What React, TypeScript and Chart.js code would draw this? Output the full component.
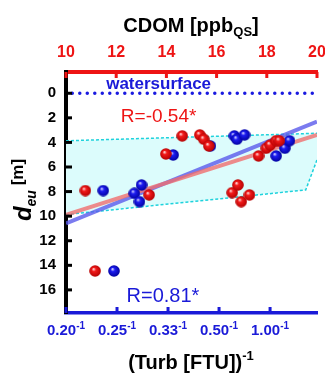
import React, { useEffect, useRef } from 'react';
import { Chart, registerables } from 'chart.js';

Chart.register(...registerables);

// ---- axis ticks ----
const TURB_TICKS = [0, 1, 2, 3, 4];
const TURB_TICK_LABELS = ['0.20', '0.25', '0.33', '0.50', '1.00'];
const TURB_TICK_EXP = '-1';
const CDOM_TICKS = [10, 12, 14, 16, 18, 20];
const DEPTH_TICKS = [0, 2, 4, 6, 8, 10, 12, 14, 16];

// ---- blue series: depth vs (Turb)^-1 (tick-index units) ----
const BLUE_X = [0.73, 0.94, 1.34, 1.48, 1.44, 2.1, 2.83, 3.3, 3.35, 3.5, 4.12, 4.29, 4.38];
const BLUE_Y = [7.92, 14.46, 8.14, 7.46, 8.82, 5.02, 4.29, 3.47, 3.74, 3.39, 5.1, 4.47, 3.86];

// ---- red series: depth vs CDOM ----
const RED_X = [10.77, 11.16, 13.31, 13.98, 14.63, 15.33, 15.49, 15.69, 16.62, 16.85, 16.98, 17.31, 17.67, 17.98, 18.13, 18.37, 18.5];
const RED_Y = [7.92, 14.46, 8.27, 4.94, 3.47, 3.39, 3.74, 4.29, 8.09, 7.46, 8.82, 8.27, 5.1, 4.47, 4.21, 3.86, 3.86];

// ---- regression lines ----
const BLUE_FIT_X = [0, 4.92];
const BLUE_FIT_Y = [10.58, 2.31];
const RED_FIT_X = [10, 20];
const RED_FIT_Y = [9.9, 3.39];

// ---- shaded band (CDOM units) ----
const BAND_X = [9.8, 20.4, 19.55, 9.8];
const BAND_Y = [3.88, 3.23, 7.87, 9.91];

// ---- water surface ----
const WATER_X = [10.25, 20];
const WATER_Y = [0, 0];

const RED = '#ee1414';
const BLUE = '#1a1ad8';
const FONT = "'Liberation Sans', Arial, sans-serif";

function makeBall(light: string, mid: string, dark: string) {
  const c = document.createElement('canvas');
  c.width = 12;
  c.height = 12;
  const g = c.getContext('2d')!;
  const grad = g.createRadialGradient(4.4, 4.0, 0.3, 6, 6, 6.2);
  grad.addColorStop(0, light);
  grad.addColorStop(0.3, mid);
  grad.addColorStop(1, dark);
  g.fillStyle = grad;
  g.beginPath();
  g.arc(6, 6, 5.8, 0, Math.PI * 2);
  g.fill();
  return c;
}

const decor = {
  id: 'decor',
  beforeDatasetsDraw(chart: any) {
    const { ctx, chartArea: a, scales } = chart;
    const sx = scales.x2;
    const sy = scales.y;
    ctx.save();
    ctx.beginPath();
    ctx.rect(a.left, a.top, a.right - a.left, a.bottom - a.top);
    ctx.clip();
    ctx.beginPath();
    BAND_X.forEach((v, i) => {
      const px = sx.getPixelForValue(v);
      const py = sy.getPixelForValue(BAND_Y[i]);
      if (i === 0) ctx.moveTo(px, py);
      else ctx.lineTo(px, py);
    });
    ctx.closePath();
    ctx.fillStyle = '#dcfcfc';
    ctx.fill();
    ctx.setLineDash([3, 2]);
    ctx.lineWidth = 1.5;
    ctx.strokeStyle = '#1ed2dc';
    ctx.stroke();
    ctx.restore();
  },
  afterDraw(chart: any) {
    const { ctx, chartArea: a, scales } = chart;
    ctx.save();
    // inward tick marks
    ctx.lineWidth = 3;
    ctx.strokeStyle = '#000';
    DEPTH_TICKS.forEach((v) => {
      const py = scales.y.getPixelForValue(v);
      ctx.beginPath();
      ctx.moveTo(a.left, py);
      ctx.lineTo(a.left + 6, py);
      ctx.stroke();
    });
    ctx.strokeStyle = RED;
    CDOM_TICKS.forEach((v) => {
      const px = scales.x2.getPixelForValue(v);
      ctx.beginPath();
      ctx.moveTo(px, a.top);
      ctx.lineTo(px, a.top + 6);
      ctx.stroke();
    });
    ctx.strokeStyle = BLUE;
    TURB_TICKS.forEach((v) => {
      const px = scales.x.getPixelForValue(v);
      ctx.beginPath();
      ctx.moveTo(px, a.bottom);
      ctx.lineTo(px, a.bottom - 6);
      ctx.stroke();
    });

    ctx.textBaseline = 'alphabetic';
    ctx.textAlign = 'left';
    const drawPieces = (pieces: [string, string, number][], cx: number, baseY: number) => {
      let w = 0;
      pieces.forEach(([t, f]) => {
        ctx.font = f;
        w += ctx.measureText(t).width;
      });
      let x = cx - w / 2;
      pieces.forEach(([t, f, dy]) => {
        ctx.font = f;
        ctx.fillText(t, x, baseY + dy);
        x += ctx.measureText(t).width;
      });
    };

    // bottom tick labels with superscript
    ctx.fillStyle = BLUE;
    TURB_TICKS.forEach((v, i) => {
      const px = scales.x.getPixelForValue(v);
      drawPieces(
        [
          [TURB_TICK_LABELS[i], `bold 15px ${FONT}`, 0],
          [TURB_TICK_EXP, `bold 10px ${FONT}`, -6],
        ],
        px,
        a.bottom + 22
      );
    });

    // annotations
    ctx.textAlign = 'center';
    ctx.fillStyle = BLUE;
    ctx.font = `bold 17px ${FONT}`;
    ctx.fillText('watersurface', scales.x2.getPixelForValue(13.69), scales.y.getPixelForValue(-0.35));
    ctx.fillStyle = RED;
    ctx.font = `19px ${FONT}`;
    ctx.fillText('R=-0.54*', scales.x2.getPixelForValue(13.69), scales.y.getPixelForValue(2.31));
    ctx.fillStyle = BLUE;
    ctx.font = `20px ${FONT}`;
    ctx.fillText('R=0.81*', scales.x.getPixelForValue(1.9), scales.y.getPixelForValue(16.98));

    // titles
    ctx.textAlign = 'left';
    ctx.fillStyle = '#000';
    drawPieces(
      [
        ['CDOM [ppb', `bold 20px ${FONT}`, 0],
        ['QS', `bold 13px ${FONT}`, 4],
        [']', `bold 20px ${FONT}`, 0],
      ],
      191,
      32
    );
    drawPieces(
      [
        ['(Turb [FTU])', `bold 20px ${FONT}`, 0],
        ['-1', `bold 13px ${FONT}`, -9],
      ],
      191,
      369
    );

    // y title (rotated)
    ctx.translate(31, 190);
    ctx.rotate(-Math.PI / 2);
    drawPieces(
      [
        ['d', `italic bold 24px ${FONT}`, 0],
        ['eu', `italic bold 14px ${FONT}`, 5],
        [' [m]', `bold 17px ${FONT}`, -8],
      ],
      0,
      0
    );
    ctx.restore();
  },
};

export default function App() {
  const ref = useRef<HTMLCanvasElement>(null);
  useEffect(() => {
    document.body.style.margin = '0';
    const canvas = ref.current!;
    const redBall = makeBall('#ffd6d6', '#f21a1a', '#b00000');
    const blueBall = makeBall('#d0d0ff', '#1c1cf0', '#00009a');

    const chart = new Chart(canvas, {
      type: 'scatter',
      data: {
        datasets: [
          {
            label: 'red',
            xAxisID: 'x2',
            yAxisID: 'y',
            data: RED_X.map((x, i) => ({ x, y: RED_Y[i] })),
            pointStyle: redBall as any,
            pointRadius: 6,
            order: 1,
          },
          {
            label: 'blue',
            xAxisID: 'x',
            yAxisID: 'y',
            data: BLUE_X.map((x, i) => ({ x, y: BLUE_Y[i] })),
            pointStyle: blueBall as any,
            pointRadius: 6,
            order: 2,
          },
          {
            label: 'red fit',
            xAxisID: 'x2',
            yAxisID: 'y',
            data: RED_FIT_X.map((x, i) => ({ x, y: RED_FIT_Y[i] })),
            showLine: true,
            pointRadius: 0,
            borderWidth: 4,
            borderColor: 'rgba(240,110,110,0.8)',
            order: 4,
          },
          {
            label: 'blue fit',
            xAxisID: 'x',
            yAxisID: 'y',
            data: BLUE_FIT_X.map((x, i) => ({ x, y: BLUE_FIT_Y[i] })),
            showLine: true,
            pointRadius: 0,
            borderWidth: 4,
            borderColor: 'rgba(90,90,235,0.8)',
            order: 5,
          },
          {
            label: 'water',
            xAxisID: 'x2',
            yAxisID: 'y',
            data: WATER_X.map((x, i) => ({ x, y: WATER_Y[i] })),
            showLine: true,
            pointRadius: 0,
            borderWidth: 3.5,
            borderDash: [0, 7.5],
            borderCapStyle: 'round',
            borderColor: '#1a1ae0',
            order: 6,
          },
        ] as any,
      },
      options: {
        responsive: false,
        animation: false,
        events: [],
        layout: { padding: { left: 0, right: 8, top: 0, bottom: 0 } },
        plugins: { legend: { display: false }, tooltip: { enabled: false } },
        scales: {
          x: {
            type: 'linear',
            position: 'bottom',
            min: 0,
            max: 4.92,
            grid: { display: true, drawOnChartArea: false, drawTicks: false },
            border: { display: true, color: BLUE, width: 3.5 },
            afterBuildTicks: (s: any) => {
              s.ticks = TURB_TICKS.map((v) => ({ value: v }));
            },
            afterFit: (s: any) => {
              s.height = 62;
              s.paddingLeft = 0;
              s.paddingRight = 0;
            },
            ticks: { display: false },
          },
          x2: {
            type: 'linear',
            position: 'top',
            min: 10,
            max: 20,
            grid: { display: true, drawOnChartArea: false, drawTicks: false },
            border: { display: true, color: RED, width: 4 },
            afterBuildTicks: (s: any) => {
              s.ticks = CDOM_TICKS.map((v) => ({ value: v }));
            },
            afterFit: (s: any) => {
              s.height = 72;
              s.paddingLeft = 0;
              s.paddingRight = 0;
            },
            ticks: {
              padding: 10,
              maxRotation: 0,
              autoSkip: false,
              color: RED,
              font: { family: FONT, size: 16, weight: 'bold' },
            },
          },
          y: {
            type: 'linear',
            position: 'left',
            reverse: true,
            min: -1.73,
            max: 17.88,
            grid: { display: true, drawOnChartArea: false, drawTicks: false },
            border: { display: true, color: '#000', width: 4 },
            afterBuildTicks: (s: any) => {
              s.ticks = DEPTH_TICKS.map((v) => ({ value: v }));
            },
            afterFit: (s: any) => {
              s.width = 66;
              s.paddingTop = 0;
              s.paddingBottom = 0;
            },
            ticks: {
              padding: 10,
              autoSkip: false,
              color: '#000',
              font: { family: FONT, size: 15, weight: 'bold' },
            },
          },
        },
      } as any,
      plugins: [decor],
    });
    return () => chart.destroy();
  }, []);

  return (
    <div style={{ width: 325, height: 375 }}>
      <canvas ref={ref} width={325} height={375} style={{ display: 'block' }} />
    </div>
  );
}
